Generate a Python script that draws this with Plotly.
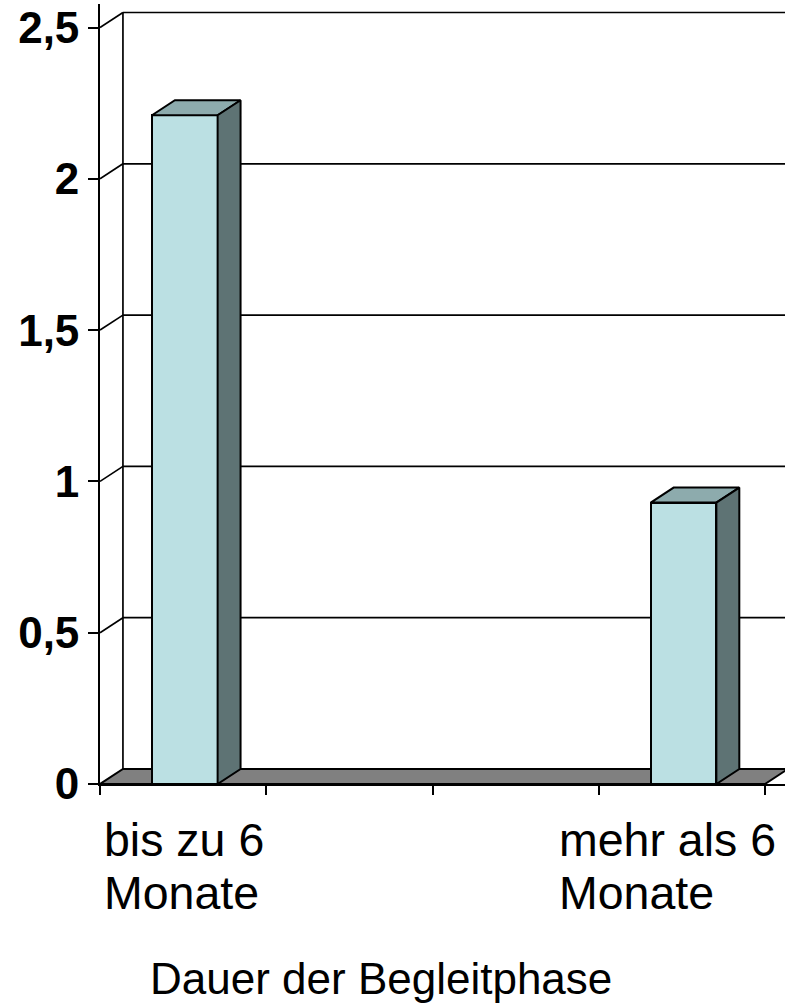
import plotly.graph_objects as go

# ---- data ----
categories = ["bis zu 6<br>Monate", "mehr als 6<br>Monate"]
category_slots = [0, 3]          # position among 4 category slots on the axis
n_slots = 4
values = [2.21, 0.93]
y_ticks = [0, 0.5, 1, 1.5, 2, 2.5]
y_tick_labels = ["0", "0,5", "1", "1,5", "2", "2,5"]
x_title = "Dauer der Begleitphase"

# ---- style / geometry ----
FONT = "Liberation Sans, Arial, sans-serif"
FRONT = "#BBE0E3"
TOP = "#8DABAD"
SIDE = "#5E7374"
FLOOR = "#808080"
LW = 1.7
BLW = 2.0
bar_w = 0.395
dx = 0.138     # depth offset in category units
dy = 0.0496    # depth offset in value units
PL, PT, PW, PH = 100, 4, 685, 780
x_max = PW / 166.25
y_max = PH / 302.6


def px_x(px):
    return (px - PL) / PW


def px_y(py):
    return (PT + PH - py) / PH


fig = go.Figure()

shapes = []
shapes.append(dict(type="path", xref="x", yref="y", layer="below",
                   path=f"M 0,0 L {n_slots},0 L {n_slots+dx},{dy} L {dx},{dy} Z",
                   fillcolor=FLOOR, line=dict(color="black", width=BLW)))
shapes.append(dict(type="line", xref="x", yref="y", layer="below",
                   x0=dx, y0=dy, x1=dx, y1=y_ticks[-1] + dy,
                   line=dict(color="black", width=LW)))
for t in y_ticks[1:]:
    shapes.append(dict(type="line", xref="x", yref="y", layer="below",
                       x0=0, y0=t, x1=dx, y1=t + dy,
                       line=dict(color="black", width=LW)))
    shapes.append(dict(type="line", xref="x", yref="y", layer="below",
                       x0=dx, y0=t + dy, x1=n_slots + 1, y1=t + dy,
                       line=dict(color="black", width=LW)))

centers = [s + 0.51 for s in category_slots]

fig.add_trace(go.Bar(x=centers, y=values, width=bar_w,
                     marker=dict(color=FRONT, line=dict(color="black", width=BLW)),
                     hoverinfo="skip", showlegend=False))

for c, v in zip(centers, values):
    l, r = c - bar_w / 2, c + bar_w / 2
    fig.add_trace(go.Scatter(x=[l, l + dx, r + dx, r, l], y=[v, v + dy, v + dy, v, v],
                             mode="lines", fill="toself", fillcolor=TOP,
                             line=dict(color="black", width=BLW),
                             hoverinfo="skip", showlegend=False))
    fig.add_trace(go.Scatter(x=[r, r + dx, r + dx, r, r], y=[0, dy, v + dy, v, 0],
                             mode="lines", fill="toself", fillcolor=SIDE,
                             line=dict(color="black", width=BLW),
                             hoverinfo="skip", showlegend=False))

annotations = []
label_lefts = [102, 557]
line_tops = [812, 865]
for txt, xl in zip(categories, label_lefts):
    for line, top in zip(txt.split("<br>"), line_tops):
        annotations.append(dict(text=line, x=px_x(xl), xref="paper", y=px_y(top), yref="paper",
                                xanchor="left", yanchor="top", align="left", showarrow=False,
                                font=dict(family=FONT, size=46.5, color="black")))
annotations.append(dict(text=x_title, x=px_x(381), xref="paper",
                        y=px_y(978), yref="paper",
                        xanchor="center", yanchor="middle", showarrow=False,
                        font=dict(family=FONT, size=44, color="black")))

fig.update_layout(
    width=785, height=1008,
    margin=dict(l=PL, r=785 - PL - PW, t=PT, b=1008 - PT - PH),
    paper_bgcolor="white", plot_bgcolor="white",
    shapes=shapes, annotations=annotations,
    bargap=0, showlegend=False,
    xaxis=dict(range=[0, x_max], showgrid=False, zeroline=False,
               showline=True, linecolor="black", linewidth=BLW,
               tickmode="array", tickvals=list(range(n_slots + 1)),
               ticks="outside", ticklen=9, tickwidth=LW, tickcolor="black",
               showticklabels=False, fixedrange=True),
    yaxis=dict(range=[0, y_max], showgrid=False, zeroline=False,
               showline=True, linecolor="black", linewidth=LW,
               tickmode="array", tickvals=y_ticks, ticktext=y_tick_labels,
               ticks="outside", ticklen=10, tickwidth=LW, tickcolor="black",
               ticklabelstandoff=0,
               tickfont=dict(family=FONT, size=44, color="black", weight="bold"),
               fixedrange=True),
)

fig.write_html("out.html", config={"displayModeBar": False},
               post_script="document.body.style.margin='0';document.body.style.overflow='hidden';")
